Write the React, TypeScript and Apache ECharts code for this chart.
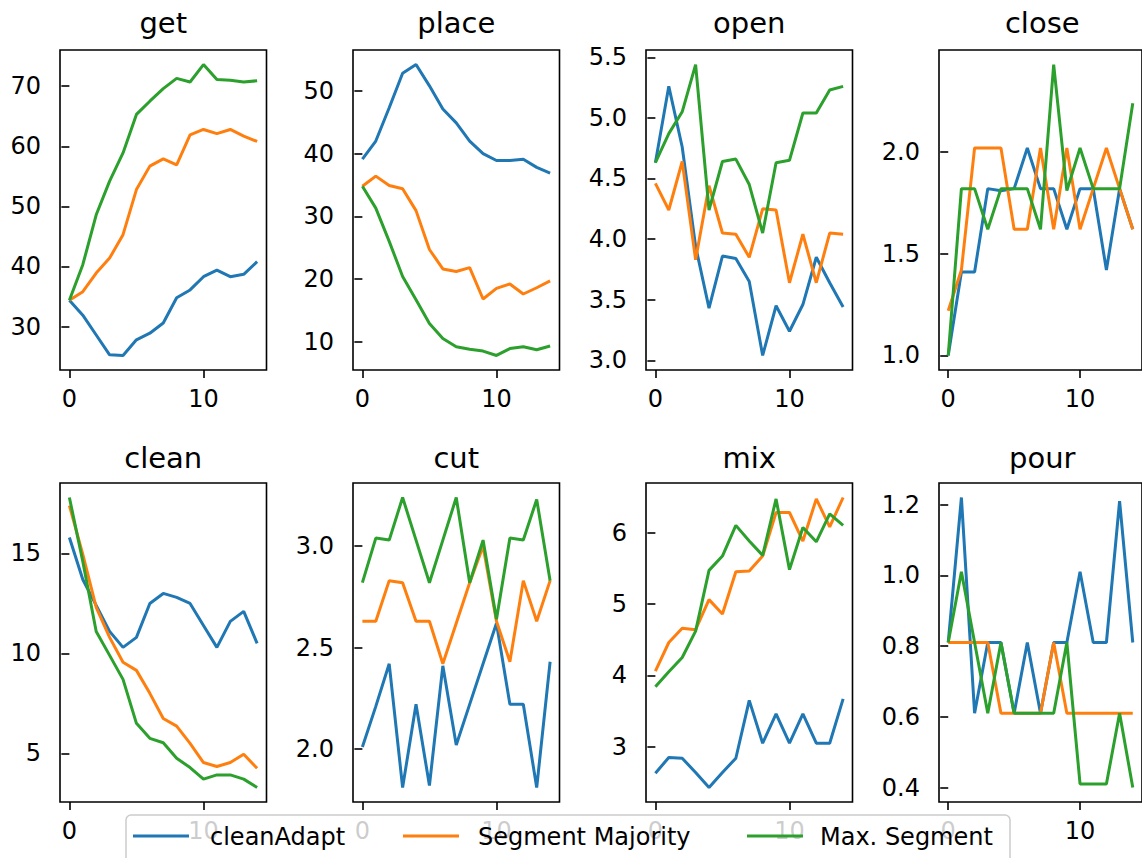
import React, { useEffect, useRef } from 'react';
import * as echarts from 'echarts';

const steps = [0, 1, 2, 3, 4, 5, 6, 7, 8, 9, 10, 11, 12, 13, 14];
const xTicks = [0, 10];
const seriesNames = ['cleanAdapt', 'Segment Majority', 'Max. Segment'];
const seriesColors = ['#1f77b4', '#ff7f0e', '#2ca02c'];

// get
const getCleanAdapt = [34.4, 31.9, 28.6, 25.3, 25.2, 27.8, 28.9, 30.6, 34.8, 36.1, 38.3, 39.4, 38.3, 38.7, 40.8];
const getMajority = [34.4, 35.8, 38.9, 41.4, 45.3, 52.8, 56.7, 57.9, 56.9, 61.9, 62.8, 62.1, 62.8, 61.7, 60.8];
const getMax = [34.4, 40.3, 48.6, 54.2, 58.9, 65.3, 67.5, 69.6, 71.3, 70.7, 73.6, 71.1, 71.0, 70.7, 70.9];
const getTicks = [30, 40, 50, 60, 70];

// place
const placeCleanAdapt = [39.1, 42.0, 47.3, 52.8, 54.2, 50.8, 47.1, 44.9, 42.0, 40.0, 38.9, 38.9, 39.1, 37.8, 36.9];
const placeMajority = [34.8, 36.4, 34.9, 34.4, 30.9, 24.7, 21.6, 21.2, 21.8, 16.8, 18.5, 19.2, 17.6, 18.6, 19.7];
const placeMax = [34.8, 31.3, 26.0, 20.4, 16.7, 12.9, 10.5, 9.2, 8.8, 8.5, 7.8, 8.9, 9.2, 8.7, 9.3];
const placeTicks = [10, 20, 30, 40, 50];

// open
const openCleanAdapt = [4.63, 5.26, 4.76, 3.94, 3.43, 3.86, 3.84, 3.65, 3.04, 3.45, 3.24, 3.46, 3.85, 3.64, 3.44];
const openMajority = [4.46, 4.24, 4.64, 3.83, 4.44, 4.05, 4.04, 3.85, 4.25, 4.24, 3.64, 4.04, 3.64, 4.05, 4.04];
const openMax = [4.63, 4.87, 5.05, 5.44, 4.24, 4.64, 4.66, 4.45, 4.05, 4.63, 4.65, 5.04, 5.04, 5.23, 5.26];
const openTicks = [3.0, 3.5, 4.0, 4.5, 5.0, 5.5];

// close
const closeCleanAdapt = [1.0, 1.41, 1.41, 1.82, 1.81, 1.82, 2.02, 1.82, 1.82, 1.62, 1.82, 1.82, 1.42, 1.82, 1.62];
const closeMajority = [1.22, 1.42, 2.02, 2.02, 2.02, 1.62, 1.62, 2.02, 1.62, 2.02, 1.62, 1.82, 2.02, 1.82, 1.62];
const closeMax = [1.0, 1.82, 1.82, 1.62, 1.82, 1.82, 1.82, 1.62, 2.43, 1.81, 2.02, 1.82, 1.82, 1.82, 2.24];
const closeTicks = [1.0, 1.5, 2.0];

// clean
const cleanCleanAdapt = [15.8, 13.7, 12.4, 11.1, 10.3, 10.8, 12.5, 13.0, 12.8, 12.5, 11.4, 10.3, 11.6, 12.1, 10.5];
const cleanMajority = [17.4, 14.95, 12.3, 10.8, 9.56, 9.15, 8.0, 6.74, 6.36, 5.5, 4.54, 4.34, 4.54, 4.95, 4.25];
const cleanMax = [17.8, 14.6, 11.1, 9.9, 8.7, 6.5, 5.75, 5.53, 4.75, 4.29, 3.71, 3.92, 3.92, 3.71, 3.29];
const cleanTicks = [5, 10, 15];

// cut
const cutCleanAdapt = [2.01, 2.21, 2.42, 1.81, 2.22, 1.82, 2.41, 2.02, 2.22, 2.42, 2.62, 2.22, 2.22, 1.81, 2.43];
const cutMajority = [2.63, 2.63, 2.83, 2.82, 2.63, 2.63, 2.42, 2.62, 2.82, 3.0, 2.63, 2.43, 2.83, 2.63, 2.83];
const cutMax = [2.82, 3.04, 3.03, 3.24, 3.03, 2.82, 3.03, 3.24, 2.82, 3.03, 2.64, 3.04, 3.03, 3.23, 2.83];
const cutTicks = [2.0, 2.5, 3.0];

// mix
const mixCleanAdapt = [2.63, 2.85, 2.84, 2.64, 2.43, 2.64, 2.84, 3.65, 3.05, 3.46, 3.05, 3.46, 3.05, 3.05, 3.67];
const mixMajority = [4.06, 4.46, 4.66, 4.64, 5.06, 4.86, 5.45, 5.46, 5.67, 6.28, 6.28, 5.88, 6.47, 6.08, 6.49];
const mixMax = [3.84, 4.05, 4.25, 4.62, 5.47, 5.67, 6.1, 5.88, 5.68, 6.47, 5.48, 6.07, 5.87, 6.26, 6.1];
const mixTicks = [3, 4, 5, 6];

// pour
const pourCleanAdapt = [0.81, 1.22, 0.61, 0.81, 0.81, 0.61, 0.81, 0.61, 0.81, 0.81, 1.01, 0.81, 0.81, 1.21, 0.81];
const pourMajority = [0.81, 0.81, 0.81, 0.81, 0.61, 0.61, 0.61, 0.61, 0.81, 0.61, 0.61, 0.61, 0.61, 0.61, 0.61];
const pourMax = [0.81, 1.01, 0.81, 0.61, 0.81, 0.61, 0.61, 0.61, 0.61, 0.81, 0.41, 0.41, 0.41, 0.61, 0.40];
const pourTicks = [0.4, 0.6, 0.8, 1.0, 1.2];

const panels = [
  { title: 'get', ticks: getTicks, decimals: 0, lines: [getCleanAdapt, getMajority, getMax] },
  { title: 'place', ticks: placeTicks, decimals: 0, lines: [placeCleanAdapt, placeMajority, placeMax] },
  { title: 'open', ticks: openTicks, decimals: 1, lines: [openCleanAdapt, openMajority, openMax] },
  { title: 'close', ticks: closeTicks, decimals: 1, lines: [closeCleanAdapt, closeMajority, closeMax] },
  { title: 'clean', ticks: cleanTicks, decimals: 0, lines: [cleanCleanAdapt, cleanMajority, cleanMax] },
  { title: 'cut', ticks: cutTicks, decimals: 1, lines: [cutCleanAdapt, cutMajority, cutMax] },
  { title: 'mix', ticks: mixTicks, decimals: 0, lines: [mixCleanAdapt, mixMajority, mixMax] },
  { title: 'pour', ticks: pourTicks, decimals: 1, lines: [pourCleanAdapt, pourMajority, pourMax] },
];

const FONT = 'DejaVu Sans';
const colLeft = [60, 353, 646, 939];
const rowTop = [50, 483];
const rowHeight = [320, 319];
const gridWidth = 206.5;
const titleY = [23, 458];

export default function App() {
  const ref = useRef<HTMLDivElement>(null);
  useEffect(() => {
    if (!ref.current) return;
    const chart = echarts.init(ref.current, undefined, { renderer: 'svg' });

    const grids: any[] = [];
    const xAxes: any[] = [];
    const yAxes: any[] = [];
    const series: any[] = [];
    const graphics: any[] = [];

    panels.forEach((p, i) => {
      const c = i % 4;
      const r = Math.floor(i / 4);
      grids.push({
        left: colLeft[c],
        top: rowTop[r],
        width: gridWidth,
        height: rowHeight[r],
        show: true,
        borderColor: '#000',
        borderWidth: 1.6,
        backgroundColor: 'transparent',
      });
      xAxes.push({
        type: 'value',
        gridIndex: i,
        min: -0.7,
        max: 14.7,
        axisLine: { show: false },
        splitLine: { show: false },
        axisTick: { show: true, length: 8, lineStyle: { color: '#000', width: 1.6 }, customValues: xTicks },
        axisLabel: { customValues: xTicks, margin: 17, fontSize: 24, color: '#000', fontFamily: FONT },
      });
      const dec = p.decimals;
      yAxes.push({
        type: 'value',
        gridIndex: i,
        min: (v: any) => v.min - 0.05 * (v.max - v.min),
        max: (v: any) => v.max + 0.05 * (v.max - v.min),
        axisLine: { show: false },
        splitLine: { show: false },
        axisTick: { show: true, length: 8, lineStyle: { color: '#000', width: 1.6 }, customValues: p.ticks },
        axisLabel: {
          customValues: p.ticks,
          margin: 19,
          fontSize: 24,
          color: '#000',
          fontFamily: FONT,
          formatter: (v: number) => v.toFixed(dec),
        },
      });
      p.lines.forEach((arr, k) => {
        series.push({
          type: 'line',
          name: seriesNames[k],
          xAxisIndex: i,
          yAxisIndex: i,
          data: steps.map((x, j) => [x, arr[j]]),
          symbol: 'none',
          lineStyle: { color: seriesColors[k], width: 3 },
          itemStyle: { color: seriesColors[k] },
          z: 2 + k,
        });
      });
      graphics.push({
        type: 'text',
        x: colLeft[c] + gridWidth / 2,
        y: titleY[r],
        style: {
          text: p.title,
          fontSize: 29,
          fontFamily: FONT,
          fill: '#000',
          textAlign: 'center',
          textVerticalAlign: 'middle',
        },
      });
    });

    // legend (drawn as graphics to match matplotlib's layout)
    const legendItems = [
      { lineX: 133, textX: 210 },
      { lineX: 403, textX: 478 },
      { lineX: 747, textX: 820 },
    ];
    graphics.push({
      type: 'rect',
      z: 100,
      shape: { x: 126, y: 815, width: 884, height: 60, r: 5 },
      style: { fill: 'rgba(255,255,255,0.8)', stroke: '#cccccc', lineWidth: 1.5 },
    });
    legendItems.forEach((it, k) => {
      graphics.push({
        type: 'line',
        z: 101,
        shape: { x1: it.lineX, y1: 836, x2: it.lineX + 56, y2: 836 },
        style: { stroke: seriesColors[k], lineWidth: 3 },
      });
      graphics.push({
        type: 'text',
        z: 101,
        x: it.textX,
        y: 837,
        style: {
          text: seriesNames[k],
          fontSize: 24,
          fontFamily: FONT,
          fill: '#000',
          textAlign: 'left',
          textVerticalAlign: 'middle',
        },
      });
    });

    chart.setOption({
      animation: false,
      backgroundColor: '#ffffff',
      grid: grids,
      xAxis: xAxes,
      yAxis: yAxes,
      series,
      graphic: graphics,
    });
    return () => chart.dispose();
  }, []);

  return (
    <div
      ref={ref}
      style={{ position: 'absolute', left: 0, top: 0, width: 1142, height: 858, background: '#fff' }}
    />
  );
}
